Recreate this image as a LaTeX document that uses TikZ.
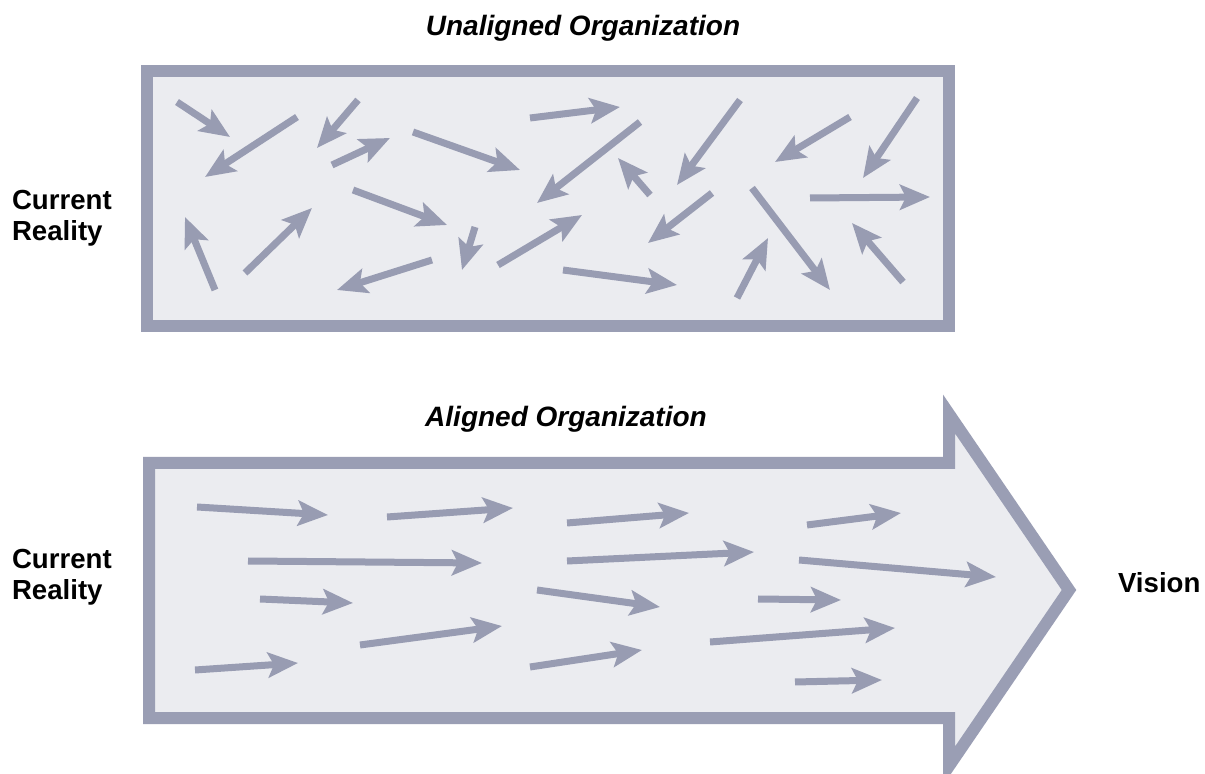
\documentclass[tikz,border=0pt]{standalone}
\usepackage{fontspec}
\setmainfont{Liberation Sans}
\usetikzlibrary{arrows.meta}
\definecolor{framec}{HTML}{9A9EB4}
\definecolor{fillc}{HTML}{EBECF0}
\definecolor{arrowc}{HTML}{989CB2}
\begin{document}
\begin{tikzpicture}[x=0.5pt,y=-0.5pt,
  frame/.style={line width=6pt, draw=framec, fill=fillc, line join=miter, miter limit=10},
  arr/.style={line width=3.5pt, draw=arrowc, -{Stealth[length=15pt,width=12.5pt,inset=3pt]}},
  title/.style={font=\fontsize{14}{16}\selectfont\bfseries\itshape, anchor=center},
  lbl/.style={font=\fontsize{13.8}{15.5}\selectfont\bfseries, align=left, anchor=west}]
\useasboundingbox[fill=white] (0,0) rectangle (1205,774);
% titles and labels
\node[title] (t1) at (583,28) {Unaligned Organization};
\node[title] (t2) at (566,419) {Aligned Organization};
\node[lbl] (cr1) at (5,218) {Current\\Reality};
\node[lbl] (cr2) at (5,577) {Current\\Reality};
\node[lbl] (vis) at (1111,583) {Vision};
% top box
\draw[frame] (147,71) rectangle (949,326);
% bottom big arrow
\draw[frame] (149,463) -- (949,463) -- (949,414) -- (1069,590) -- (949,766) -- (949,718) -- (149,718) -- cycle;
% unaligned arrows
\draw[arr] (177,102) -- (230,137);
\draw[arr] (297,117) -- (205,177);
\draw[arr] (358,100) -- (317,148);
\draw[arr] (332,165) -- (390,138);
\draw[arr] (413,132) -- (520,170);
\draw[arr] (215,290) -- (185,217);
\draw[arr] (245,273) -- (312,208);
\draw[arr] (353,190) -- (447,225);
\draw[arr] (475,227) -- (462,270);
\draw[arr] (432,260) -- (337,290);
\draw[arr] (498,265) -- (582,215);
\draw[arr] (530,118) -- (620,107);
\draw[arr] (640,122) -- (537,203);
\draw[arr] (650,195) -- (618,158);
\draw[arr] (740,100) -- (677,185);
\draw[arr] (712,193) -- (648,243);
\draw[arr] (563,270) -- (677,285);
\draw[arr] (737,298) -- (768,238);
\draw[arr] (752,188) -- (830,290);
\draw[arr] (850,117) -- (775,162);
\draw[arr] (917,98) -- (863,178);
\draw[arr] (810,198) -- (930,197);
\draw[arr] (903,282) -- (852,223);
% aligned arrows
\draw[arr] (197,507) -- (328,515);
\draw[arr] (387,517) -- (513,508);
\draw[arr] (248,561) -- (482,563);
\draw[arr] (260,599) -- (353,603);
\draw[arr] (360,645) -- (502,626);
\draw[arr] (195,670) -- (298,663);
\draw[arr] (567,523) -- (689,513);
\draw[arr] (567,561) -- (754,552);
\draw[arr] (537,590) -- (660,607);
\draw[arr] (530,667) -- (642,650);
\draw[arr] (807,525) -- (901,513);
\draw[arr] (799,560) -- (996,577);
\draw[arr] (758,599) -- (841,600);
\draw[arr] (710,642) -- (895,628);
\draw[arr] (795,682) -- (882,680);
\end{tikzpicture}
\end{document}
